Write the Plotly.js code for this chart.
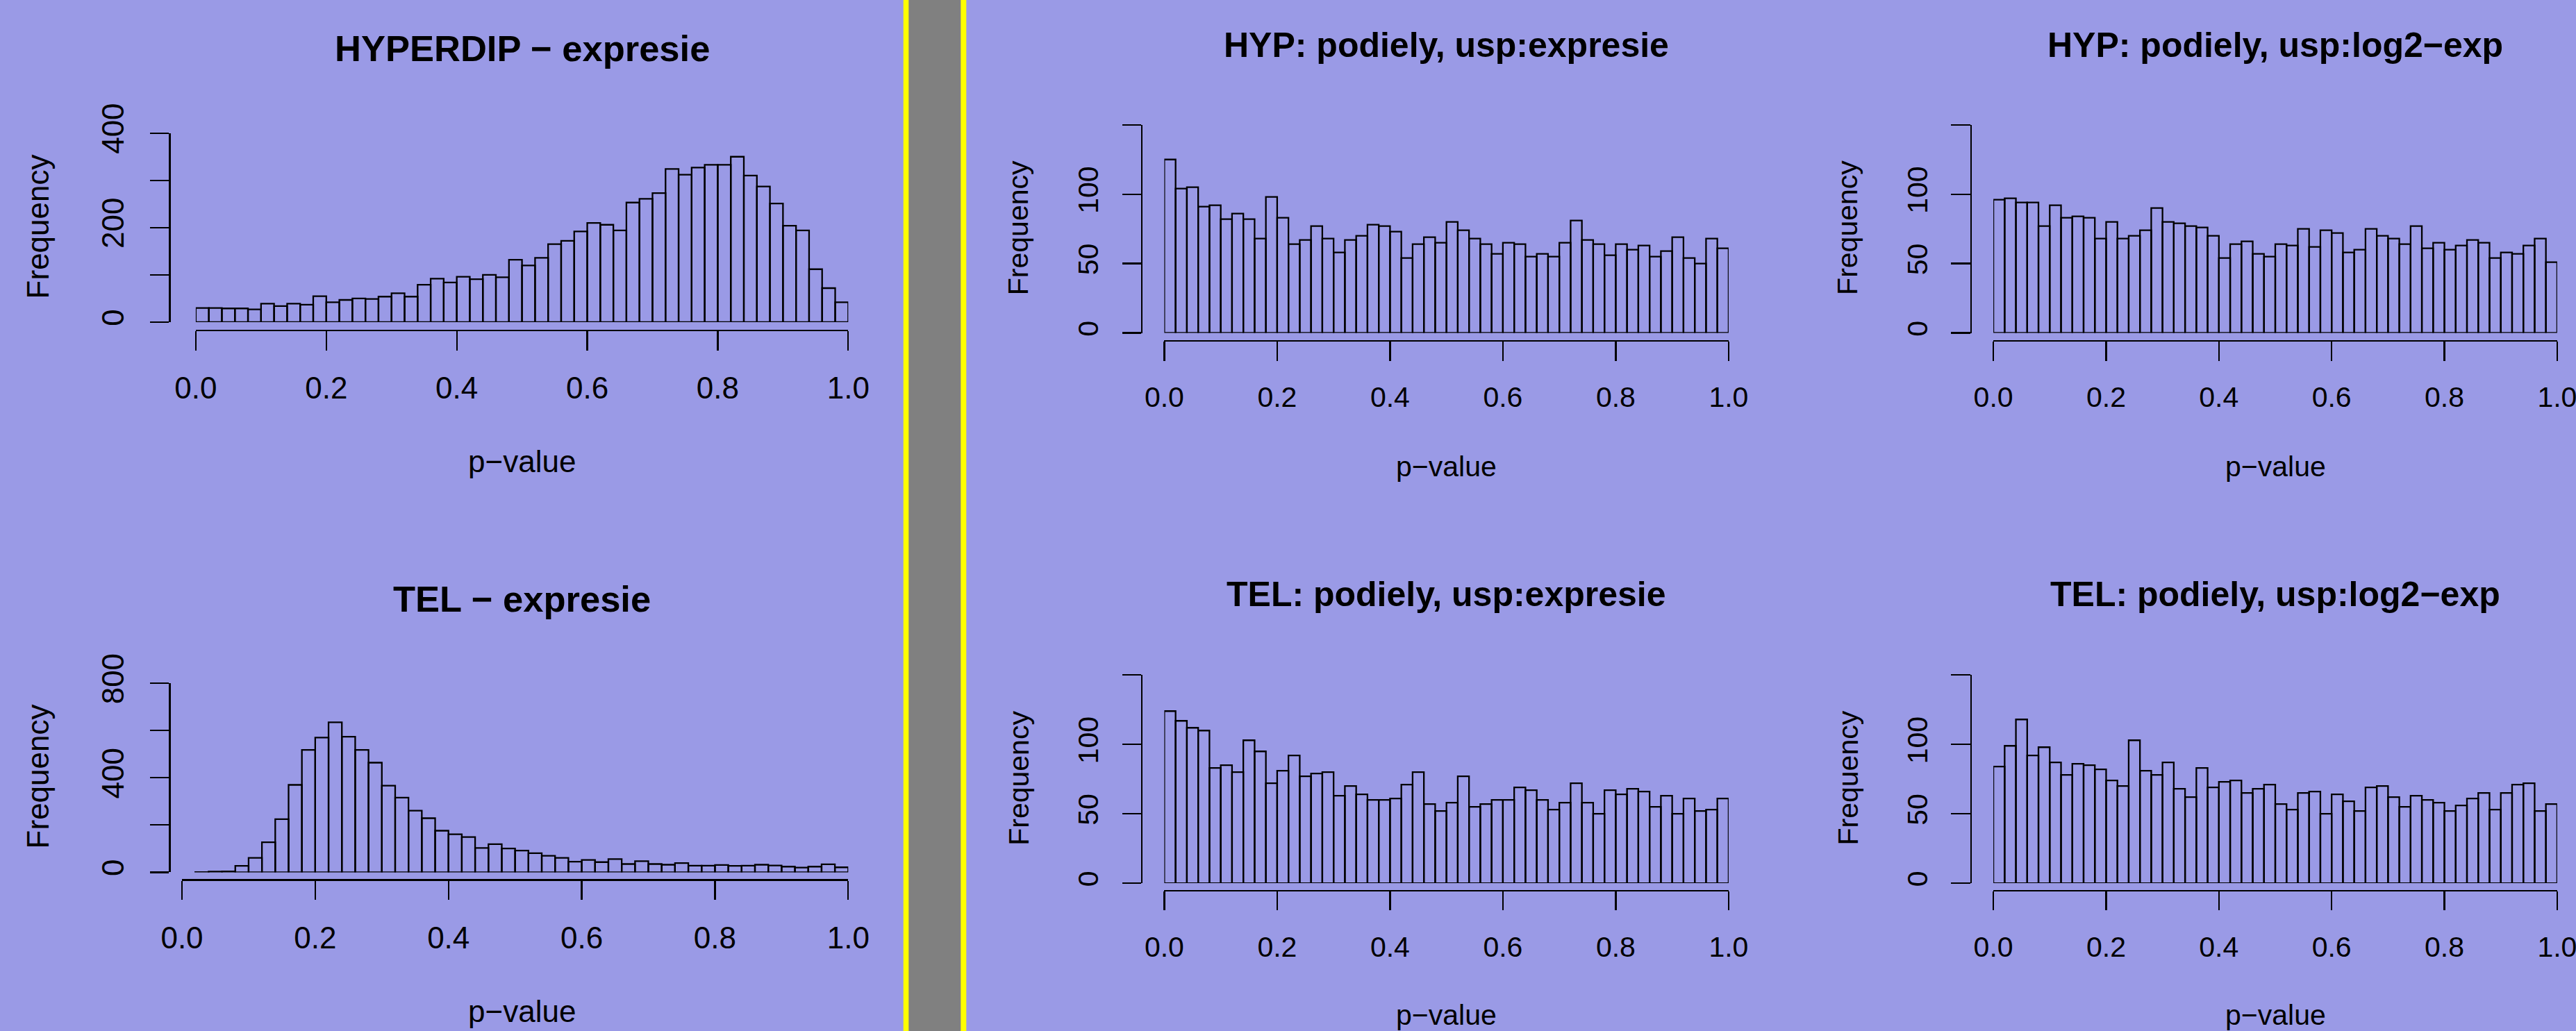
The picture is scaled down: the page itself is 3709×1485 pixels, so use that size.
<!DOCTYPE html>
<html>
<head>
<meta charset="utf-8">
<script src="https://cdn.plot.ly/plotly-3.0.1.min.js"></script>
<style>
html,body{margin:0;padding:0;background:#9A9AE6;overflow:hidden;}
#chart{width:3709px;height:1485px;}
</style>
</head>
<body>
<div id="chart"></div>
<script>
// ---------------- data (bin counts) ----------------
const binWidth = 0.02;
const hyperdipExprStart = 0.0;
const hyperdipExpr = [30,30,29,29,27,39,34,39,37,55,42,47,50,49,54,61,54,79,92,84,
  96,91,100,95,132,120,136,165,172,192,210,206,194,253,261,273,324,312,327,333,
  333,350,310,287,251,204,194,112,72,42];
const telExprStart = 0.02;
const telExpr = [1,3,4,27,61,127,225,370,518,570,635,574,518,464,367,316,261,229,176,161,
  149,103,119,101,92,81,70,61,45,52,43,56,35,47,35,32,39,28,28,31,
  27,28,32,29,24,20,24,34,21];
const hypPodExprStart = 0.0;
const hypPodExpr = [125,104,105,91,92,82,86,82,68,98,83,64,67,77,68,58,67,70,78,77,
  73,54,64,69,65,80,74,68,64,57,65,64,55,57,55,65,81,67,64,56,
  64,60,63,55,59,69,54,50,68,61];
const telPodExprStart = 0.0;
const telPodExpr = [124,117,112,110,83,85,80,103,95,72,81,92,77,79,80,63,70,64,60,60,
  61,71,80,57,52,58,77,55,57,60,60,69,67,60,53,58,72,58,50,67,
  64,68,66,55,63,50,61,52,53,61];
const hypPodLog2Start = 0.0;
const hypPodLog2 = [96,97,94,94,77,92,83,84,83,68,80,68,70,74,90,80,79,77,76,70,
  54,64,66,57,55,64,63,75,62,74,72,58,60,75,70,68,64,77,61,65,
  60,63,67,65,54,58,57,63,68,51];
const telPodLog2Start = 0.0;
const telPodLog2 = [84,99,118,92,98,87,78,86,85,82,74,70,103,81,78,87,68,62,83,69,
  73,74,65,68,71,57,53,65,66,50,64,59,52,69,70,62,55,63,60,58,
  52,56,61,65,53,65,71,72,52,57];

const xTickVals = [0, 0.2, 0.4, 0.6, 0.8, 1.0];
const xTickText = ['0.0','0.2','0.4','0.6','0.8','1.0'];
const yTicksLeftTop = [0,100,200,300,400];
const yLabelsLeftTop = ['0','','200','','400'];
const yTicksLeftBottom = [0,200,400,600,800];
const yLabelsLeftBottom = ['0','','400','','800'];
const yTicksRight = [0,50,100,150];
const yLabelsRight = ['0','50','100',''];

const titles = ['HYPERDIP \u2212 expresie','TEL \u2212 expresie',
  'HYP: podiely, usp:expresie','TEL: podiely, usp:expresie',
  'HYP: podiely, usp:log2\u2212exp','TEL: podiely, usp:log2\u2212exp'];
const xTitle = 'p\u2212value';
const yTitle = 'Frequency';

// ---------------- layout geometry (pixels in the 3709x1485 page) ----------------
const W = 3709, H = 1485;
const BG = '#9A9AE6';
const FONT = 'Liberation Sans, Arial, Helvetica, sans-serif';

const panels = [
  {counts: hyperdipExpr, start: hyperdipExprStart, yt: yTicksLeftTop, yl: yLabelsLeftTop,
   x0: 281.9, x1: 1221.3, y0: 464.0, yTop: 191.7, yLineX: 244.2, xLineY: 475.7, ySo: 20,
   fs: 44, tfs: 52.5, cx: 751.5, titleY: 69.6, xtY: 664.8, ytX: 54.8, ytY: 326.6},
  {counts: telExpr, start: telExprStart, yt: yTicksLeftBottom, yl: yLabelsLeftBottom,
   x0: 262.0, x1: 1221.3, y0: 1256.4, yTop: 984.2, yLineX: 244.2, xLineY: 1267.4, ySo: 20,
   fs: 44, tfs: 52.5, cx: 751.5, titleY: 862.8, xtY: 1456.8, ytX: 54.8, ytY: 1118.6},
  {counts: hypPodExpr, start: hypPodExprStart, yt: yTicksRight, yl: yLabelsRight,
   x0: 1676.4, x1: 2488.9, y0: 479.5, yTop: 179.8, yLineX: 1644.0, xLineY: 490.8, ySo: 18,
   fs: 41, tfs: 50, cx: 2082.6, titleY: 64.9, xtY: 671.8, ytX: 1466.8, ytY: 328.4},
  {counts: telPodExpr, start: telPodExprStart, yt: yTicksRight, yl: yLabelsRight,
   x0: 1676.4, x1: 2488.9, y0: 1272.1, yTop: 972.3, yLineX: 1644.0, xLineY: 1282.6, ySo: 18,
   fs: 41, tfs: 50, cx: 2082.6, titleY: 855.7, xtY: 1461.5, ytX: 1466.8, ytY: 1121.0},
  {counts: hypPodLog2, start: hypPodLog2Start, yt: yTicksRight, yl: yLabelsRight,
   x0: 2870.1, x1: 3681.9, y0: 479.5, yTop: 179.8, yLineX: 2837.7, xLineY: 490.8, ySo: 18,
   fs: 41, tfs: 50, cx: 3276.0, titleY: 64.9, xtY: 671.8, ytX: 2660.5, ytY: 328.4},
  {counts: telPodLog2, start: telPodLog2Start, yt: yTicksRight, yl: yLabelsRight,
   x0: 2870.1, x1: 3681.9, y0: 1272.1, yTop: 972.3, yLineX: 2837.7, xLineY: 1282.6, ySo: 18,
   fs: 41, tfs: 50, cx: 3276.0, titleY: 855.7, xtY: 1461.5, ytX: 2660.5, ytY: 1121.0}
];

const LW = 2.3, TL = 27.5;
const data = [];
const layout = {
  width: W, height: H,
  margin: {l: 0, r: 0, t: 0, b: 0, pad: 0},
  paper_bgcolor: BG, plot_bgcolor: 'rgba(0,0,0,0)',
  showlegend: false,
  font: {family: FONT, color: '#000'},
  annotations: [],
  shapes: [
    {type: 'rect', xref: 'paper', yref: 'paper', x0: 1300.7/W, x1: 1391.3/W, y0: 0, y1: 1,
     fillcolor: '#FFFF00', line: {width: 0}, layer: 'below'},
    {type: 'rect', xref: 'paper', yref: 'paper', x0: 1308.3/W, x1: 1383.3/W, y0: 0, y1: 1,
     fillcolor: '#808080', line: {width: 0}, layer: 'below'}
  ]
};

panels.forEach((p, i) => {
  const s = i === 0 ? '' : String(i + 1);
  const centers = p.counts.map((c, k) => p.start + binWidth * (k + 0.5));
  data.push({
    type: 'bar', x: centers, y: p.counts, width: binWidth,
    xaxis: 'x' + s, yaxis: 'y' + s,
    marker: {color: 'rgba(0,0,0,0)', line: {color: '#000', width: LW}},
    cliponaxis: false, hoverinfo: 'skip'
  });
  const yMax = p.yt[p.yt.length - 1];
  layout['xaxis' + s] = {
    domain: [p.x0 / W, p.x1 / W], range: [0, 1],
    anchor: 'free', position: 1 - p.xLineY / H,
    tickmode: 'array', tickvals: xTickVals, ticktext: xTickText,
    ticks: 'outside', ticklen: TL, tickwidth: LW, tickcolor: '#000',
    showline: true, linewidth: LW, linecolor: '#000',
    showgrid: false, zeroline: false, fixedrange: true,
    tickfont: {family: FONT, size: p.fs, color: '#000'},
    ticklabelstandoff: 17, ticklabeloverflow: 'allow'
  };
  layout['yaxis' + s] = {
    domain: [1 - p.y0 / H, 1 - p.yTop / H], range: [0, yMax],
    anchor: 'free', position: p.yLineX / W,
    tickmode: 'array', tickvals: p.yt, ticktext: p.yl, tickangle: -90,
    ticks: 'outside', ticklen: TL, tickwidth: LW, tickcolor: '#000',
    showline: true, linewidth: LW, linecolor: '#000',
    showgrid: false, zeroline: false, fixedrange: true,
    tickfont: {family: FONT, size: p.fs, color: '#000'},
    ticklabelstandoff: p.ySo, ticklabeloverflow: 'allow'
  };
  layout.annotations.push(
    {text: '<b>' + titles[i] + '</b>', xref: 'paper', yref: 'paper',
     x: p.cx / W, y: 1 - p.titleY / H, xanchor: 'center', yanchor: 'middle',
     showarrow: false, font: {family: FONT, size: p.tfs, color: '#000'}},
    {text: xTitle, xref: 'paper', yref: 'paper',
     x: p.cx / W, y: 1 - p.xtY / H, xanchor: 'center', yanchor: 'middle',
     showarrow: false, font: {family: FONT, size: p.fs, color: '#000'}},
    {text: yTitle, xref: 'paper', yref: 'paper', textangle: -90,
     x: p.ytX / W, y: 1 - p.ytY / H, xanchor: 'center', yanchor: 'middle',
     showarrow: false, font: {family: FONT, size: p.fs, color: '#000'}}
  );
});

Plotly.newPlot('chart', data, layout, {displayModeBar: false, staticPlot: true, responsive: false});
</script>
</body>
</html>
